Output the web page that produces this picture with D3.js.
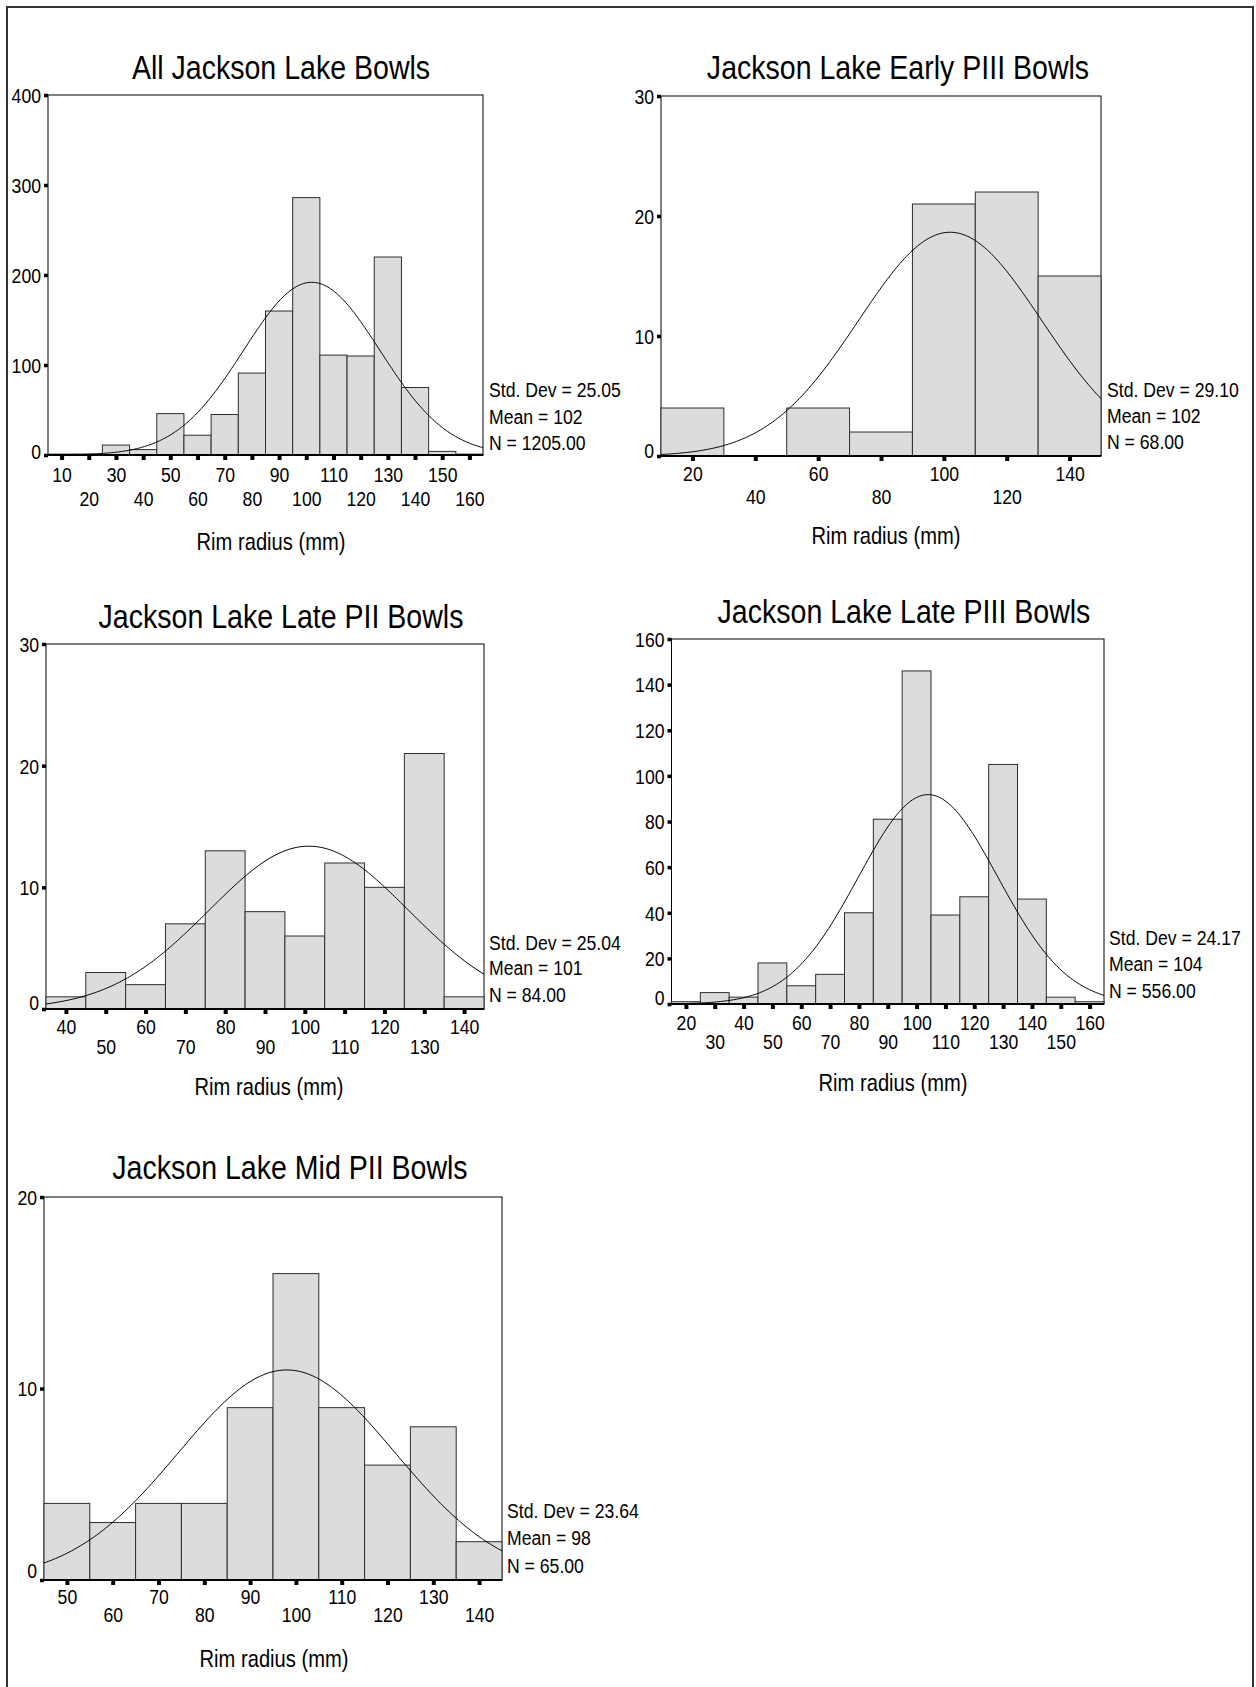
<!DOCTYPE html>
<meta charset="utf-8">
<style>

body {
  margin: 0;
  background: #fff;
}

svg text {
  font-family: "Liberation Sans Narrow", "Arial Narrow", "Liberation Sans", Arial, sans-serif;
  fill: #000;
}

.bar {
  fill: #dcdcdc;
  stroke: #2e2e2e;
  stroke-width: 1px;
}

.curve {
  fill: none;
  stroke: #000;
  stroke-width: 1px;
}

.frame {
  fill: none;
  stroke: #000;
  stroke-width: 1px;
}

</style>
<body>
    <div class='canvas'></div>
</body>
<script src="https://cdn.jsdelivr.net/npm/d3@7"></script>
<script>

var titles = [
  "All Jackson Lake Bowls",
  "Jackson Lake Early PIII Bowls",
  "Jackson Lake Late PII Bowls",
  "Jackson Lake Late PIII Bowls",
  "Jackson Lake Mid PII Bowls"
];

// bin centres (mm) and counts
var allBins = [10, 20, 30, 40, 50, 60, 70, 80, 90, 100, 110, 120, 130, 140, 150, 160],
    allCounts = [1, 1, 11, 6, 46, 22, 45, 91, 160, 286, 111, 110, 220, 75, 4, 1];

var earlyPIIIBins = [20, 40, 60, 80, 100, 120, 140],
    earlyPIIICounts = [4, 0, 4, 2, 21, 22, 15];

var latePIIBins = [40, 50, 60, 70, 80, 90, 100, 110, 120, 130, 140],
    latePIICounts = [1, 3, 2, 7, 13, 8, 6, 12, 10, 21, 1];

var latePIIIBins = [20, 30, 40, 50, 60, 70, 80, 90, 100, 110, 120, 130, 140, 150, 160],
    latePIIICounts = [1, 5, 3, 18, 8, 13, 40, 81, 146, 39, 47, 105, 46, 3, 1];

var midPIIBins = [50, 60, 70, 80, 90, 100, 110, 120, 130, 140],
    midPIICounts = [4, 3, 4, 4, 9, 16, 9, 6, 8, 2];

// summary stats printed beside each chart
var stdDevs = [25.05, 29.10, 25.04, 24.17, 23.64],
    means = [102, 102, 101, 104, 98],
    ns = [1205, 68, 84, 556, 65];

// y tick labels
var allYTicks = [0, 100, 200, 300, 400],
    earlyPIIIYTicks = [0, 10, 20, 30],
    latePIIYTicks = [0, 10, 20, 30],
    latePIIIYTicks = [0, 20, 40, 60, 80, 100, 120, 140, 160],
    midPIIYTicks = [0, 10, 20];

// x labels sitting on the upper row (the rest drop to the lower row)
var allUpperRow = [10, 30, 50, 70, 90, 110, 130, 150],
    earlyPIIIUpperRow = [20, 60, 100, 140],
    latePIIUpperRow = [40, 60, 80, 100, 120, 140],
    latePIIIUpperRow = [20, 40, 60, 80, 100, 120, 140, 160],
    midPIIUpperRow = [50, 70, 90, 110, 130];

var xLabel = "Rim radius (mm)";

var panels = [
  {bins: allBins, counts: allCounts, bw: 10, dom: [5, 165], yTicks: allYTicks, upper: allUpperRow, zeroDy: "0.15em",
   box: {l: 48, r: 483, t: 95, b: 455}, tx: 281, ty: 79, r1: 19.5, r2: 44, lx: 271, ly: 541.5, sx: 489, sy: [390, 416.5, 443]},
  {bins: earlyPIIIBins, counts: earlyPIIICounts, bw: 20, dom: [10, 150], yTicks: earlyPIIIYTicks, upper: earlyPIIIUpperRow, zeroDy: "0.05em",
   box: {l: 661, r: 1101, t: 96, b: 456}, tx: 898, ty: 79, r1: 18, r2: 41, lx: 886, ly: 536, sx: 1107, sy: [390, 416, 442]},
  {bins: latePIIBins, counts: latePIICounts, bw: 10, dom: [35, 145], yTicks: latePIIYTicks, upper: latePIIUpperRow, zeroDy: "0em",
   box: {l: 46, r: 484, t: 644, b: 1009}, tx: 281, ty: 628, r1: 18, r2: 37.5, lx: 269, ly: 1086.5, sx: 489, sy: [942.5, 968, 995]},
  {bins: latePIIIBins, counts: latePIIICounts, bw: 10, dom: [15, 165], yTicks: latePIIIYTicks, upper: latePIIIUpperRow, zeroDy: "0em",
   box: {l: 671.5, r: 1104, t: 639, b: 1004}, tx: 904, ty: 622.5, r1: 19, r2: 38, lx: 893, ly: 1083, sx: 1109, sy: [937.5, 964, 991]},
  {bins: midPIIBins, counts: midPIICounts, bw: 10, dom: [45, 145], yTicks: midPIIYTicks, upper: midPIIUpperRow, zeroDy: "-0.12em",
   box: {l: 44, r: 502, t: 1197, b: 1580}, tx: 290, ty: 1179, r1: 17, r2: 35, lx: 274, ly: 1659, sx: 507, sy: [1511, 1538, 1566]}
];

var w = 1256,
    h = 1687,
    squeeze = 0.84;   // no narrow face installed, so squash the regular one

var svg = d3.select(".canvas").append("svg")
    .attr("width", w)
    .attr("height", h);

svg.append("rect")
    .attr("x", 7)
    .attr("y", 7)
    .attr("width", 1246)
    .attr("height", 1700)
    .attr("fill", "none")
    .attr("stroke", "#333")
    .attr("stroke-width", 2);

function narrow(sel) {
  sel.each(function() {
    var t = d3.select(this);
    var x = +t.attr("x") || 0,
        y = +t.attr("y") || 0;
    t.attr("x", 0).attr("y", 0)
      .attr("transform", "translate(" + x + "," + y + ") scale(" + squeeze + ",1)");
  });
}

panels.forEach(function(p, i) {
  var box = p.box;
  var x = d3.scaleLinear().domain(p.dom).range([box.l, box.r]);
  var y = d3.scaleLinear().domain([0, d3.max(p.yTicks)]).range([box.b, box.t]);
  var g = svg.append("g");

  g.append("text")
      .attr("x", p.tx)
      .attr("y", p.ty)
      .attr("text-anchor", "middle")
      .style("font-size", "34px")
      .text(titles[i])
      .call(narrow);

  g.append("rect")
      .attr("class", "frame")
      .attr("x", box.l)
      .attr("y", box.t)
      .attr("width", box.r - box.l)
      .attr("height", box.b - box.t);

  var bars = p.bins.map(function(c, j) { return {c: c, n: p.counts[j]}; })
      .filter(function(d) { return d.n > 0; });

  g.selectAll(".bar")
      .data(bars)
    .enter().append("rect")
      .attr("class", "bar")
      .attr("x", function(d) { return x(d.c - p.bw / 2); })
      .attr("y", function(d) { return y(d.n); })
      .attr("width", function(d) { return x(d.c + p.bw / 2) - x(d.c - p.bw / 2); })
      .attr("height", function(d) { return y(0) - y(d.n); });

  // fitted normal curve from the printed mean / sd / N
  var sd = stdDevs[i], mu = means[i], n = ns[i];
  var steps = d3.range(p.dom[0], p.dom[1] + 0.01, 0.5);
  var line = d3.line()
      .x(function(v) { return x(v); })
      .y(function(v) {
        var z = (v - mu) / sd;
        return y(n * p.bw * Math.exp(-0.5 * z * z) / (sd * Math.sqrt(2 * Math.PI)));
      });

  g.append("path")
      .attr("class", "curve")
      .attr("d", line(steps));

  // y axis
  var ya = g.append("g")
      .attr("transform", "translate(" + box.l + ",0)")
      .call(d3.axisLeft(y).tickValues(p.yTicks).tickSize(4).tickPadding(3).tickFormat(d3.format("d")));
  ya.select(".domain").remove();
  ya.selectAll(".tick line").attr("stroke", "#000").attr("stroke-width", 3.5);
  ya.selectAll(".tick text")
      .style("font-size", "21px")
      .attr("dy", function(d) { return d === 0 ? p.zeroDy : "0.35em"; })
      .call(narrow);

  // x axis
  var xa = g.append("g")
      .attr("transform", "translate(0," + box.b + ")")
      .call(d3.axisBottom(x).tickValues(p.bins).tickSize(3).tickPadding(0).tickFormat(d3.format("d")));
  xa.select(".domain")
      .attr("stroke", "#000")
      .attr("stroke-width", 2)
      .attr("d", "M" + box.l + ",0H" + box.r);
  xa.selectAll(".tick line").attr("stroke", "#000").attr("stroke-width", 4).attr("y1", 1).attr("y2", 5);
  xa.selectAll(".tick text")
      .style("font-size", "21px")
      .attr("y", function(d) { return p.upper.indexOf(d) >= 0 ? p.r1 : p.r2; })
      .attr("dy", "0.35em")
      .call(narrow);

  g.append("text")
      .attr("x", p.lx)
      .attr("y", p.ly)
      .attr("dy", "0.35em")
      .attr("text-anchor", "middle")
      .style("font-size", "24px")
      .text(xLabel)
      .call(narrow);

  var statLines = [
    "Std. Dev = " + stdDevs[i].toFixed(2),
    "Mean = " + means[i],
    "N = " + ns[i].toFixed(2)
  ];

  g.selectAll(".stat")
      .data(statLines)
    .enter().append("text")
      .attr("class", "stat")
      .attr("x", p.sx)
      .attr("y", function(d, j) { return p.sy[j]; })
      .attr("dy", "0.35em")
      .style("font-size", "21px")
      .text(function(d) { return d; })
      .call(narrow);
});

</script>
